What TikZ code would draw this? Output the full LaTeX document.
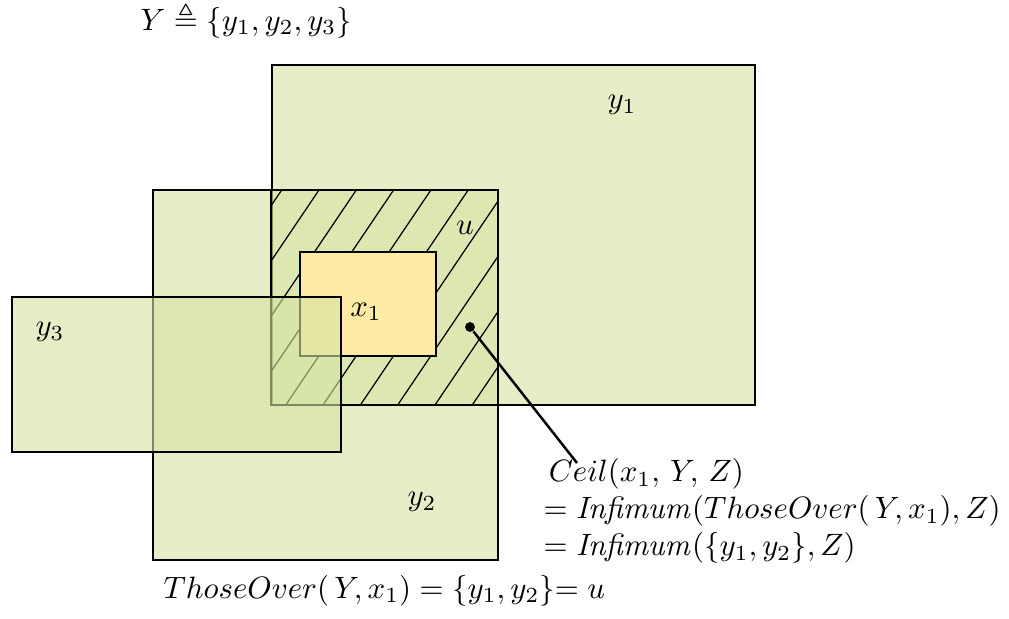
\documentclass[tikz,border=0pt]{standalone}
\usepackage{amsmath,amssymb}
\usetikzlibrary{positioning}
\definecolor{setgreen}{RGB}{213,227,163}
\definecolor{ptyellow}{RGB}{255,235,165}

\begin{document}
\begin{tikzpicture}[x=0.324pt, y=-0.324pt,
  set/.style={draw, thick, fill=setgreen, fill opacity=0.6},
  elem/.style={draw, thick, fill=ptyellow},
  hatch/.style={thin},
  lbl/.style={inner sep=0pt},
  ]
  \useasboundingbox (0,0) rectangle (1009,618);
  \draw[set] (272,65) rectangle (755,405);
  \draw[set] (153,190) rectangle (498,560);
  \begin{scope}
    \clip (271,190) rectangle (498,405);
    \foreach \i in {0,...,9}
      \draw[hatch] (281.7+37.3*\i,190) -- ++(-160,237);
  \end{scope}
  \draw[thick] (271,190) rectangle (498,405);
  \draw[elem] (300,252) rectangle (436,356);
  \node[circle, fill, inner sep=0pt, minimum size=3.2pt] (dot) at (470,327) {};
  \coordinate (tip) at (577,463);
  \draw[thick] (dot) -- (tip);
  \draw[set] (12,297) rectangle (341,452);

  \node[lbl, anchor=base west] (title) at (140,30) {$Y \triangleq \{y_1, y_2, y_3\}$};
  \node[lbl] (ly1) at (622,105) {$y_1$};
  \node[lbl] (lu) at (465,228) {$u$};
  \node[lbl] (lx1) at (366,312) {$x_1$};
  \node[lbl] (ly3) at (50,332) {$y_3$};
  \node[lbl] (ly2) at (422,502) {$y_2$};
  \node[lbl, anchor=north west, align=left] (ceil) at (543,458)
    {\,$Ceil(x_1,\, Y, \,Z)$\\
     $= \mathit{Infimum}(ThoseOver(\,Y, x_1), Z)$\\
     $= \mathit{Infimum}(\{y_1, y_2\}, Z)$};
  \node[lbl, anchor=base west] (those) at (163,598)
    {$ThoseOver(\,Y, x_1) = \{y_1, y_2\}$$= u$};
\end{tikzpicture}
\end{document}
